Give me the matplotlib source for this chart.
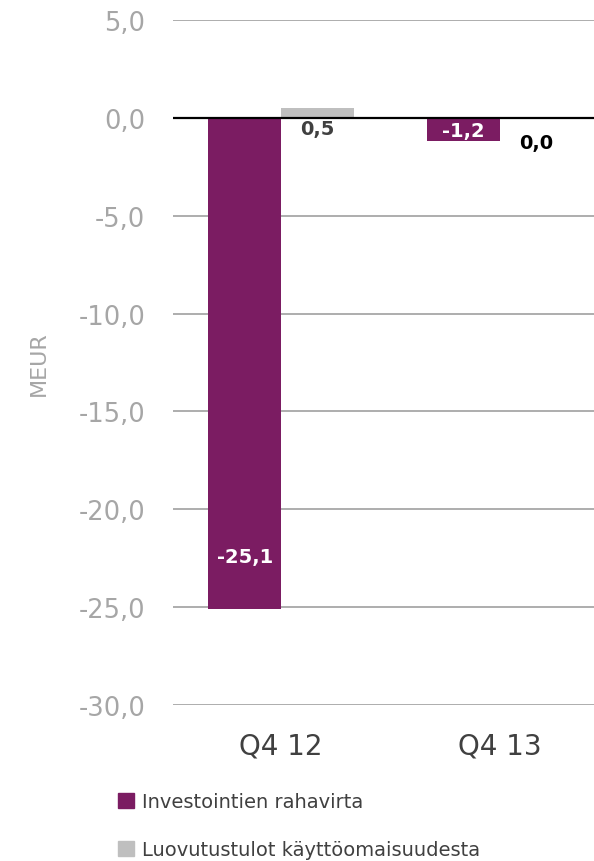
import numpy as np
import matplotlib.pyplot as plt
from matplotlib.patches import Patch

# Quarterly investment cash flow, MEUR
quarters = ["Q4 12", "Q4 13"]
series_names = ["Investointien rahavirta", "Luovutustulot käyttöomaisuudesta"]
investments = [-25.1, -1.2]
disposals = [0.5, 0.0]

PURPLE = "#7b1c62"
GREY = "#bfbfbf"
TICK_GREY = "#a6a6a6"
DARK = "#404040"

fig = plt.figure(figsize=(5.94, 8.62), dpi=100)
ax = fig.add_axes([0.2912, 0.181, 0.7088, 0.7946])

x = np.arange(len(quarters))
w = 0.333
ax.bar(x - w / 2, investments, w, color=PURPLE, zorder=3)
ax.bar(x + w / 2, disposals, w, color=GREY, zorder=3)

ax.set_ylim(-30, 5)
ax.set_xlim(-0.495, 1.43)
ax.set_yticks(np.arange(-30, 6, 5))
ax.set_yticklabels([f"{v:.1f}".replace(".", ",") for v in np.arange(-30, 6, 5)],
                   color=TICK_GREY, fontsize=18.5)
ax.set_xticks(x)
ax.set_xticklabels(quarters, color=DARK, fontsize=20)
ax.tick_params(axis="both", length=0)
ax.tick_params(axis="y", pad=20)
ax.tick_params(axis="x", pad=19)
for s in ax.spines.values():
    s.set_visible(False)
ax.grid(axis="y", color="#a0a0a0", lw=1.2, zorder=0)
ax.axhline(0, color="black", lw=1.6, zorder=4)
ax.set_ylabel("MEUR", color=TICK_GREY, fontsize=16, labelpad=21)


def fmt(v):
    return f"{v:.1f}".replace(".", ",")


# value labels
ax.annotate(fmt(investments[0]), (x[0] - w / 2, investments[0]), xytext=(0, 38),
            textcoords="offset points", ha="center", va="center",
            color="white", fontsize=14, fontweight="bold", zorder=5)
ax.annotate(fmt(investments[1]), (x[1] - w / 2, investments[1]), xytext=(0, 8),
            textcoords="offset points", ha="center", va="center",
            color="white", fontsize=14, fontweight="bold", zorder=5)
ax.annotate(fmt(disposals[0]), (x[0] + w / 2, disposals[0]), xytext=(0, -15),
            textcoords="offset points", ha="center", va="center",
            color=DARK, fontsize=14, fontweight="bold", zorder=5)
ax.annotate(fmt(disposals[1]), (x[1] + w / 2, disposals[1]), xytext=(0, -18),
            textcoords="offset points", ha="center", va="center",
            color="black", fontsize=14, fontweight="bold", zorder=5)

handles = [Patch(color=PURPLE), Patch(color=GREY)]
fig.legend(handles, series_names, loc="upper left", bbox_to_anchor=(0.17, 0.1),
           frameon=False, fontsize=14, labelcolor=DARK, handlelength=0.8,
           handleheight=0.8, handletextpad=0.4, labelspacing=1.5,
           bbox_transform=fig.transFigure)

fig.savefig("out.png", dpi=100)
